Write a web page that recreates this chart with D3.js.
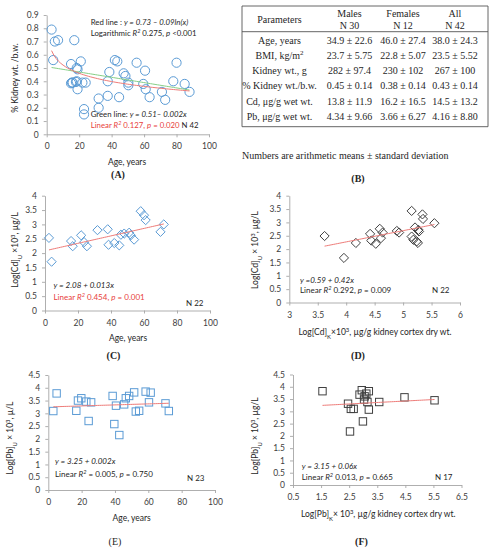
<!DOCTYPE html>
<html><head><meta charset="utf-8">
<script src="https://cdn.jsdelivr.net/npm/d3@7"></script>
<style>body{margin:0;background:#fff}svg{display:block}</style>
</head><body>
<svg id="c" width="489" height="550"></svg>
<script>
// ---------- DATA ----------
// Panel A: % kidney weight / body weight vs age (N 42)
const ageA = [3,4,5,7,17,15,15,15.6,18.5,19,21,18.5,19,22,24,23,23,32,32,37.6,38.6,37.6,42,43.5,44.6,47.4,48.5,50.3,50.3,55.4,59.5,60.6,61,63.4,71,73,78,80,85,88,16,18];
const kidneyPctA = [0.79,0.56,0.70,0.71,0.71,0.53,0.385,0.39,0.50,0.49,0.55,0.40,0.34,0.39,0.39,0.19,0.15,0.27,0.20,0.40,0.47,0.29,0.56,0.55,0.28,0.46,0.44,0.39,0.37,0.54,0.38,0.48,0.34,0.28,0.32,0.26,0.40,0.54,0.38,0.32,0.39,0.395];
const logFitA = [0.73, -0.09];   // y = a + b ln(x)
const linFitA = [0.51, -0.002];  // y = a + b x
// Panel B: table
const tableHeader = [["Parameters",""],["Males","N 30"],["Females","N 12"],["All","N 42"]];
const tableParams = ["Age, years","BMI, kg/m²","Kidney wt., g","% Kidney wt./b.w.","Cd, μg/g wet wt.","Pb, μg/g wet wt."];
const tableMales = ["34.9 ± 22.6","23.7 ± 5.75","282 ± 97.4","0.45 ± 0.14","13.8 ± 11.9","4.34 ± 9.66"];
const tableFemales = ["46.0 ± 27.4","22.8 ± 5.07","230 ± 102","0.38 ± 0.14","16.2 ± 16.5","3.66 ± 6.27"];
const tableAll = ["38.0 ± 24.3","23.5 ± 5.52","267 ± 100","0.43 ± 0.14","14.5 ± 13.2","4.16 ± 8.80"];
// Panel C: Log[Cd]U vs age (N 22)
const ageC = [2.4,4,15.8,16.8,21.9,23.7,25.4,31.8,38,38.5,42,45,46,48,51,52,54,58,60,61,70,72];
const cdUrineC = [2.53,1.70,2.42,2.24,2.62,2.38,2.24,2.80,2.83,2.29,2.35,2.27,2.64,2.68,2.71,2.62,2.47,3.46,3.32,3.15,2.74,3.00];
const linFitC = [2.08, 0.013];
// Panel D: Log[Cd]U vs Log[Cd]K (N 22)
const cdKidneyD = [3.62,3.96,4.17,4.42,4.44,4.52,4.59,4.61,4.64,4.89,4.93,5.15,5.15,5.18,5.21,5.24,5.26,5.28,5.34,5.35,5.27,5.55];
const cdUrineD = [2.49,1.67,2.23,2.57,2.32,2.20,2.76,2.41,2.62,2.68,2.62,3.43,2.47,2.35,2.81,2.29,2.23,2.66,3.30,3.13,2.72,2.97];
const linFitD = [0.59, 0.42];
// Panel E: Log[Pb]U vs age (N 23)
const ageE = [3,5,16.8,17.8,19.8,22.8,24.2,25.7,38.6,39.6,40.6,42.6,45.5,46.5,48.5,51.5,52.5,54.5,58.4,60.4,61.4,70.3,72.3];
const pbUrineE = [3.09,3.78,3.10,3.50,3.59,3.46,2.70,3.43,3.68,2.58,3.30,2.15,3.35,3.59,3.68,3.82,3.07,3.10,3.85,3.43,3.81,3.39,3.09];
const linFitE = [3.25, 0.002];
// Panel F: Log[Pb]U vs Log[Pb]K (N 17)
const pbKidneyF = [1.55,2.46,2.56,2.66,2.53,2.87,2.95,3.03,3.05,2.99,3.15,3.20,3.20,3.57,4.47,5.54,3.11];
const pbUrineF = [3.82,3.31,3.10,3.10,2.18,3.68,3.86,3.48,3.61,2.59,3.38,3.07,3.82,3.38,3.57,3.45,3.72];
const linFitF = [3.15, 0.06];
// Tick values
const ticksAgeX = [0,20,40,60,80,100];
const ticksA_Y = [0,0.1,0.2,0.3,0.4,0.5,0.6,0.7,0.8,0.9];
const ticks4Y = [0,0.5,1,1.5,2,2.5,3,3.5,4];
const ticks45Y = [0,0.5,1,1.5,2,2.5,3,3.5,4,4.5];
const ticksD_X = [3,3.5,4,4.5,5,5.5,6];
const ticksF_X = [0.5,1.5,2.5,3.5,4.5,5.5,6.5];

// ---------- DRAWING ----------
const svg = d3.select("#c");
const SANS = "Lato, 'Liberation Sans', Arial, sans-serif";
const SERIF = "'Liberation Serif', 'Times New Roman', serif";
const BLUE = "#5b9bd5", DARK = "#404040", RED = "#e8413c", REDLINE = "#ee7b78", GREENLINE = "#86cf86";
const AXIS = "#a6a6a6", TICKTXT = "#404040";
const fmt = d => String(+(+d).toFixed(2));

function panel(cfg) {
  const g = svg.append("g");
  const x = d3.scaleLinear().domain(cfg.xd).range([cfg.left, cfg.right]);
  const y = d3.scaleLinear().domain(cfg.yd).range([cfg.bottom, cfg.top]);
  const xa = g.append("g").attr("transform", `translate(0,${cfg.bottom})`)
    .call(d3.axisBottom(x).tickValues(cfg.xt).tickSize(3).tickSizeOuter(0).tickPadding(6).tickFormat(fmt));
  const ya = g.append("g").attr("transform", `translate(${cfg.left},0)`)
    .call(d3.axisLeft(y).tickValues(cfg.yt).tickSize(3).tickSizeOuter(0).tickPadding(5).tickFormat(fmt));
  [xa, ya].forEach(a => {
    a.select(".domain").attr("stroke", AXIS).attr("stroke-width", 0.9);
    a.selectAll(".tick line").attr("stroke", AXIS).attr("stroke-width", 0.9);
    a.selectAll(".tick text").attr("fill", TICKTXT).style("font-family", SANS).style("font-size", "8.5px");
  });
  return {g, x, y};
}

function text(g, x, y, segs, opts = {}) {
  const fs = opts.size || 8;
  const t = g.append("text").attr("x", x).attr("y", y + fs * 0.35)
    .style("font-family", opts.family || SANS).style("font-size", fs + "px")
    .attr("fill", opts.fill || "#262626")
    .attr("text-anchor", opts.anchor || "start");
  if (opts.weight) t.style("font-weight", opts.weight);
  if (opts.rotate) t.attr("transform", `rotate(-90,${x},${y})`);
  segs.forEach(s => {
    if (typeof s === "string") s = {t: s};
    const sp = t.append("tspan").text(s.t);
    if (s.i) sp.style("font-style", "italic");
    if (s.sup) sp.attr("baseline-shift", "super").style("font-size", (fs * 0.7) + "px");
    if (s.sub) sp.attr("baseline-shift", "sub").style("font-size", (fs * 0.7) + "px");
    if (s.fill) sp.attr("fill", s.fill);
  });
  return t;
}

function fitLine(p, coef, x0, x1, fn, color) {
  const xs = d3.range(0, 61).map(i => x0 + (x1 - x0) * i / 60);
  const line = d3.line().x(d => p.x(d)).y(d => p.y(fn(coef, d)));
  p.g.append("path").datum(xs).attr("d", line).attr("fill", "none")
    .attr("stroke", color).attr("stroke-width", 1);
}
const lin = (c, v) => c[0] + c[1] * v;
const logf = (c, v) => c[0] + c[1] * Math.log(v);

// ----- Panel A -----
const pA = panel({xd:[0,100], yd:[0,0.9], left:46.7, right:209, bottom:134.3, top:15, xt:ticksAgeX, yt:ticksA_Y});
pA.g.append("g").selectAll("circle").data(ageA).join("circle")
  .attr("cx", d => pA.x(d)).attr("cy", (d,i) => pA.y(kidneyPctA[i])).attr("r", 4.6)
  .attr("fill", "none").attr("stroke", BLUE).attr("stroke-width", 1);
fitLine(pA, linFitA, d3.min(ageA), d3.max(ageA), lin, GREENLINE);
fitLine(pA, logFitA, d3.min(ageA), d3.max(ageA), logf, REDLINE);
text(pA.g, 90.7, 22, ["Red line : ", {t:"y = 0.73 – 0.09ln(x)", i:1}], {size:7.8});
text(pA.g, 90.7, 33.5, ["Logarithmic ", {t:"R", i:1}, {t:"2", sup:1, i:1}, " 0.275, ", {t:"p", i:1}, " <0.001"], {size:7.8});
text(pA.g, 90.7, 114.3, ["Green line: ", {t:"y = 0.51– 0.002x", i:1}], {size:7.8});
text(pA.g, 90.7, 125, [{t:"Linear ", fill:RED}, {t:"R", i:1, fill:RED}, {t:"2", sup:1, i:1, fill:RED}, {t:" 0.127, ", fill:RED}, {t:"p", i:1, fill:RED}, {t:" = 0.020", fill:RED}, "  N 42"], {size:7.8});
text(pA.g, 15, 78, ["% Kidney wt. /b.w."], {size:8.5, anchor:"middle", rotate:1});
text(pA.g, 127, 162, ["Age, years"], {size:8.5, anchor:"middle"});
text(pA.g, 118, 174.5, ["(A)"], {size:10, anchor:"middle", family:SERIF, weight:"bold"});

// ----- Panel B (table) -----
const gB = svg.append("g");
const colX = [279.5, 349.5, 403, 455];
const tL = 242, tR = 488, tTop = 6, tHead = 31.7, tBot = 126.7;
[tTop, tHead, tBot].forEach(yy => gB.append("line").attr("x1", tL).attr("x2", tR).attr("y1", yy).attr("y2", yy).attr("stroke", "#555").attr("stroke-width", 0.9));
[tL, tR].forEach(xx => gB.append("line").attr("x1", xx).attr("x2", xx).attr("y1", tTop).attr("y2", tBot).attr("stroke", "#555").attr("stroke-width", 0.9));
tableHeader.forEach((h, i) => {
  if (i === 0) text(gB, colX[0], 19.5, [h[0]], {size:10, family:SERIF, anchor:"middle"});
  else {
    text(gB, colX[i], 13.5, [h[0]], {size:10, family:SERIF, anchor:"middle"});
    text(gB, colX[i], 25.5, [h[1]], {size:10, family:SERIF, anchor:"middle"});
  }
});
const rowY = [40.7, 55.2, 70.2, 85.6, 101, 116.5];
tableParams.forEach((p, r) => {
  const segs = p.includes("²") ? ["BMI, kg/m", {t:"2", sup:1}] : [p];
  text(gB, colX[0], rowY[r], segs, {size:10, family:SERIF, anchor:"middle"});
  text(gB, colX[1], rowY[r], [tableMales[r]], {size:10, family:SERIF, anchor:"middle"});
  text(gB, colX[2], rowY[r], [tableFemales[r]], {size:10, family:SERIF, anchor:"middle"});
  text(gB, colX[3], rowY[r], [tableAll[r]], {size:10, family:SERIF, anchor:"middle"});
});
text(gB, 242, 155, ["Numbers are arithmetic means ± standard deviation"], {size:10, family:SERIF});
text(gB, 358, 178, ["(B)"], {size:10, family:SERIF, anchor:"middle", weight:"bold"});

// ----- Panel C -----
const pC = panel({xd:[0,100], yd:[0,4], left:45, right:210, bottom:310.5, top:195.7, xt:ticksAgeX, yt:ticks4Y});
const diamond = s => `M0,${-s}L${s},0L0,${s}L${-s},0Z`;
pC.g.append("g").selectAll("path").data(ageC).join("path")
  .attr("d", diamond(4.6)).attr("transform", (d,i) => `translate(${pC.x(d)},${pC.y(cdUrineC[i])})`)
  .attr("fill", "none").attr("stroke", BLUE).attr("stroke-width", 1);
fitLine(pC, linFitC, d3.min(ageC), d3.max(ageC), lin, REDLINE);
text(pC.g, 53.5, 285, [{t:"y = 2.08 + 0.013x", i:1}]);
text(pC.g, 53.5, 296.7, [{t:"Linear ", fill:RED}, {t:"R", i:1, fill:RED}, {t:"2", sup:1, i:1, fill:RED}, {t:" 0.454, ", fill:RED}, {t:"p", i:1, fill:RED}, {t:" = 0.001", fill:RED}]);
text(pC.g, 186, 302.7, ["N 22"]);
text(pC.g, 15, 250, ["Log[Cd]", {t:"U", sub:1}, " ×10", {t:"3", sup:1}, ", µg/L"], {size:8.5, anchor:"middle", rotate:1});
text(pC.g, 128, 337.7, ["Age, years"], {size:8.5, anchor:"middle"});
text(pC.g, 113.5, 355, ["(C)"], {size:10, anchor:"middle", family:SERIF, weight:"bold"});

// ----- Panel D -----
const pD = panel({xd:[3,6], yd:[0,4], left:289.3, right:460, bottom:302.5, top:195.7, xt:ticksD_X, yt:ticks4Y});
pD.g.append("g").selectAll("path").data(cdKidneyD).join("path")
  .attr("d", diamond(4.6)).attr("transform", (d,i) => `translate(${pD.x(d)},${pD.y(cdUrineD[i])})`)
  .attr("fill", "none").attr("stroke", DARK).attr("stroke-width", 1);
fitLine(pD, linFitD, d3.min(cdKidneyD), d3.max(cdKidneyD), lin, REDLINE);
text(pD.g, 300, 280, [{t:"y =0.59 + 0.42x", i:1}]);
text(pD.g, 300, 290.3, ["Linear ", {t:"R", i:1}, {t:"2", sup:1, i:1}, " 0.292, ", {t:"p", i:1}, " = 0.009"]);
text(pD.g, 432, 290.3, ["N 22"]);
text(pD.g, 255, 250, ["Log[Cd]", {t:"U", sub:1}, " × 10", {t:"3", sup:1}, ", µg/L"], {size:8.5, anchor:"middle", rotate:1});
text(pD.g, 375, 331.7, ["Log[Cd]", {t:"K", sub:1}, "×10", {t:"3", sup:1}, ", µg/g kidney cortex dry wt."], {size:8.5, anchor:"middle"});
text(pD.g, 358, 355.5, ["(D)"], {size:10, anchor:"middle", family:SERIF, weight:"bold"});

// ----- Panel E -----
const pE = panel({xd:[0,100], yd:[0,4.5], left:48.3, right:215, bottom:490, top:375, xt:ticksAgeX, yt:ticks45Y});
pE.g.append("g").selectAll("rect").data(ageE).join("rect")
  .attr("x", d => pE.x(d) - 3.7).attr("y", (d,i) => pE.y(pbUrineE[i]) - 3.7).attr("width", 7.4).attr("height", 7.4)
  .attr("fill", "none").attr("stroke", BLUE).attr("stroke-width", 1);
fitLine(pE, linFitE, d3.min(ageE), d3.max(ageE), lin, REDLINE);
text(pE.g, 55, 461, [{t:"y = 3.25 + 0.002x", i:1}]);
text(pE.g, 55, 473.8, ["Linear ", {t:"R", i:1}, {t:"2", sup:1, i:1}, " = 0.005, ", {t:"p", i:1}, " = 0.750"]);
text(pE.g, 187, 478.5, ["N 23"]);
text(pE.g, 10, 438, ["Log[Pb]", {t:"U", sub:1}, " × 10", {t:"3", sup:1}, ", µ/L"], {size:8.5, anchor:"middle", rotate:1});
text(pE.g, 131.7, 518.3, ["Age, years"], {size:8.5, anchor:"middle"});
text(pE.g, 115, 541, ["(E)"], {size:10, anchor:"middle", family:SERIF});

// ----- Panel F -----
const pF = panel({xd:[0.5,6.5], yd:[0,4.5], left:293, right:461.5, bottom:485, top:374.5, xt:ticksF_X, yt:ticks45Y});
pF.g.append("g").selectAll("rect").data(pbKidneyF).join("rect")
  .attr("x", d => pF.x(d) - 3.7).attr("y", (d,i) => pF.y(pbUrineF[i]) - 3.7).attr("width", 7.4).attr("height", 7.4)
  .attr("fill", "none").attr("stroke", DARK).attr("stroke-width", 1);
fitLine(pF, linFitF, d3.min(pbKidneyF), d3.max(pbKidneyF), lin, REDLINE);
text(pF.g, 301.7, 466, [{t:"y = 3.15 + 0.06x", i:1}]);
text(pF.g, 301.7, 477, ["Linear ", {t:"R", i:1}, {t:"2", sup:1, i:1}, " 0.013, ", {t:"p", i:1}, " = 0.665"]);
text(pF.g, 435, 477, ["N 17"]);
text(pF.g, 255, 436, ["Log[Pb]", {t:"U", sub:1}, " × 10", {t:"3", sup:1}, ", µg/L"], {size:8.5, anchor:"middle", rotate:1});
text(pF.g, 378.3, 514, ["Log[Pb]", {t:"K", sub:1}, "× 10", {t:"3", sup:1}, ", µg/g kidney cortex dry wt."], {size:8.5, anchor:"middle"});
text(pF.g, 361.5, 541, ["(F)"], {size:10, anchor:"middle", family:SERIF, weight:"bold"});
</script>
</body></html>
